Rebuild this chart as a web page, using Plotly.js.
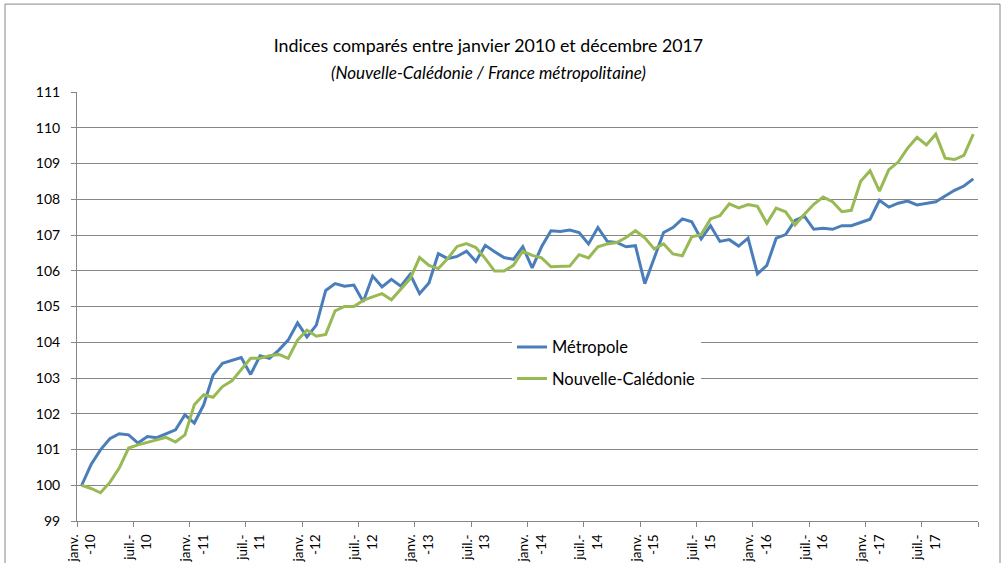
<!DOCTYPE html>
<html>
<head>
<meta charset="utf-8">
<script src="https://cdn.plot.ly/plotly-3.0.1.min.js"></script>
<style>
html,body{margin:0;padding:0;background:#fff;}
#chart{width:1005px;height:563px;}
</style>
</head>
<body>
<div id="chart"></div>
<script>
const years = ['10','11','12','13','14','15','16','17'];
const monthNames = ['janv.','févr.','mars','avr.','mai','juin','juil.','août','sept.','oct.','nov.','déc.'];
const months = years.flatMap(y => monthNames.map(m => m + '-' + y));

const metropole = [
  100.0, 100.58, 100.99, 101.3, 101.44, 101.41, 101.18, 101.36, 101.33, 101.44, 101.55, 101.97,
  101.74, 102.25, 103.08, 103.41, 103.48, 103.57, 103.1, 103.62, 103.55, 103.78, 104.06, 104.54,
  104.15, 104.48, 105.45, 105.64, 105.57, 105.6, 105.13, 105.85, 105.55, 105.76, 105.57, 105.9,
  105.36, 105.66, 106.48, 106.34, 106.4, 106.55, 106.26, 106.71, 106.53, 106.37, 106.32, 106.67,
  106.08, 106.67, 107.12, 107.1, 107.14, 107.07, 106.75, 107.21, 106.82, 106.79, 106.67, 106.7,
  105.64, 106.37, 107.07, 107.21, 107.45, 107.37, 106.89, 107.26, 106.82, 106.87, 106.69, 106.91,
  105.91, 106.15, 106.91, 107.01, 107.41, 107.53, 107.16, 107.19, 107.16, 107.26, 107.26, 107.35,
  107.44, 107.97, 107.78, 107.89, 107.95, 107.84, 107.88, 107.93, 108.09, 108.25, 108.37, 108.57
];

const caledonie = [
  100.0, 99.91, 99.79, 100.08, 100.48, 101.04, 101.13, 101.2, 101.27, 101.34, 101.21, 101.41,
  102.25, 102.53, 102.46, 102.76, 102.92, 103.22, 103.55, 103.55, 103.62, 103.66, 103.55, 104.06,
  104.34, 104.17, 104.22, 104.88, 105.0, 105.0, 105.17, 105.27, 105.36, 105.19, 105.47, 105.78,
  106.37, 106.15, 106.06, 106.34, 106.68, 106.76, 106.65, 106.34, 105.99, 105.99, 106.15, 106.55,
  106.43, 106.36, 106.11, 106.11, 106.13, 106.45, 106.36, 106.67, 106.75, 106.79, 106.93, 107.12,
  106.92, 106.61, 106.75, 106.47, 106.42, 106.95, 107.01, 107.45, 107.54, 107.87, 107.76, 107.85,
  107.8, 107.33, 107.75, 107.65, 107.28, 107.58, 107.86, 108.06, 107.93, 107.65, 107.69, 108.5,
  108.8, 108.23, 108.83, 109.04, 109.43, 109.73, 109.52, 109.82, 109.15, 109.11, 109.23, 109.82
];

const tickLabels = [
  'janv.<br>-10','juil.-<br>10','janv.<br>-11','juil.-<br>11','janv.<br>-12','juil.-<br>12',
  'janv.<br>-13','juil.-<br>13','janv.<br>-14','juil.-<br>14','janv.<br>-15','juil.-<br>15',
  'janv.<br>-16','juil.-<br>16','janv.<br>-17','juil.-<br>17',''
];
const yTicks = [99,100,101,102,103,104,105,106,107,108,109,110,111];

const titleText = 'Indices comparés entre janvier 2010 et décembre 2017';
const subtitleText = '(Nouvelle-Calédonie / France métropolitaine)';
const seriesNames = ['Métropole', 'Nouvelle-Calédonie'];

const FONT = 'Lato, "Open Sans", sans-serif';
const GRID = '#868686';

// tick boundaries between categories (every 6 months)
const tickPos = tickLabels.map((t, k) => k * 6 - 0.5);

const traces = [
  {x: months, y: metropole, name: seriesNames[0], type: 'scatter', mode: 'lines',
   line: {color: '#4A7EBB', width: 3}, legendgroup: 'a'},
  {x: months, y: caledonie, name: seriesNames[1], type: 'scatter', mode: 'lines',
   line: {color: '#98B954', width: 3}, legendgroup: 'b'}
];

const layout = {
  width: 1005, height: 563,
  margin: {l: 77, r: 27, t: 92, b: 42},
  paper_bgcolor: '#fff', plot_bgcolor: '#fff',
  font: {family: FONT, color: '#000', size: 13},
  title: {text: titleText, font: {family: FONT, size: 17.8, color: '#000'},
          x: 0.486, xanchor: 'center', y: 1 - 46/563, yanchor: 'middle', xref: 'container', yref: 'container'},
  annotations: [{text: '<i>' + subtitleText + '</i>', xref: 'paper', yref: 'paper',
                 x: (488.5 - 77) / 901, y: (521.5 - 72) / 429.5, xanchor: 'center', yanchor: 'middle',
                 showarrow: false, font: {family: FONT, size: 17, color: '#000'}}],
  xaxis: {
    type: 'category', range: [-0.5, 95.5], autorange: false,
    tickmode: 'array', tickvals: tickPos, ticktext: tickLabels,
    tickangle: -90, ticks: 'outside', ticklen: 5, tickcolor: GRID, tickwidth: 1,
    ticklabelshift: 5, ticklabelstandoff: 2,
    showline: true, linecolor: GRID, linewidth: 1,
    showgrid: false, zeroline: false,
    tickfont: {family: FONT, size: 13.5, color: '#000'}
  },
  yaxis: {
    range: [99, 111], autorange: false,
    tickmode: 'array', tickvals: yTicks,
    ticks: 'outside', ticklen: 5, tickcolor: GRID, tickwidth: 1,
    ticklabelstandoff: 8,
    showline: true, linecolor: GRID, linewidth: 1,
    showgrid: true, gridcolor: GRID, gridwidth: 1, zeroline: false,
    tickfont: {family: FONT, size: 14, color: '#000'}
  },
  showlegend: true,
  legend: {
    x: (512 - 77) / 901, y: (521.5 - 330) / 429.5, xanchor: 'left', yanchor: 'top',
    bgcolor: '#fff', borderwidth: 0,
    font: {family: FONT, size: 16.5, color: '#000'},
    traceorder: 'grouped', tracegroupgap: 7
  },
  shapes: [{type: 'rect', xref: 'paper', yref: 'paper',
            x0: (5 - 77) / 901, x1: (1000 - 77) / 901,
            y0: (521.5 - 600) / 429.5, y1: (521.5 - 4) / 429.5,
            line: {color: GRID, width: 1}, fillcolor: 'rgba(0,0,0,0)', layer: 'below'}]
};

Plotly.newPlot('chart', traces, layout, {displayModeBar: false, staticPlot: true});
</script>
</body>
</html>
